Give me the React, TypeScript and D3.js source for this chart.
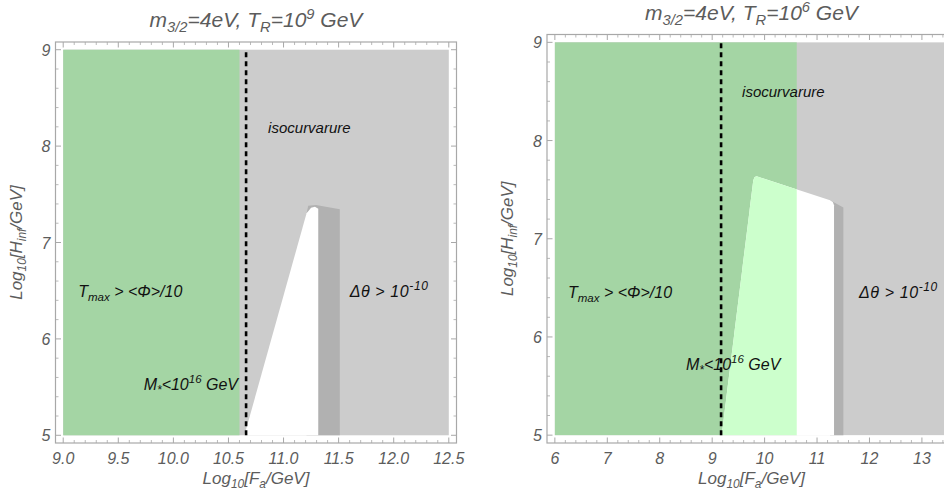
import { useEffect } from "react";
import * as d3 from "d3";

// axis ticks
const yTicks = [5, 6, 7, 8, 9];
const leftXTicks = [9.0, 9.5, 10.0, 10.5, 11.0, 11.5, 12.0, 12.5];
const rightXTicks = [6, 7, 8, 9, 10, 11, 12, 13];

const yRange = [5, 9];
const leftXRange = [9.0, 12.5];
const rightXRange = [6, 13.5];

// left panel: T_R = 10^9 GeV
const leftGreenEdge = 10.6;
const leftDashX = 10.66;
const leftStrip = [
  [11.209, 7.3], [11.224, 7.38], [11.294, 7.39], [11.511, 7.345], [11.511, 5], [11.209, 5],
];
const leftAllowed = [
  [10.645, 5], [11.209, 7.303], [11.25, 7.36], [11.285, 7.372], [11.315, 7.35], [11.315, 5],
];

// right panel: T_R = 10^6 GeV
const rightGreenEdge = 10.613;
const rightDashX = 9.17;
const rightStrip = [
  [11.248, 7.392], [11.502, 7.318], [11.502, 5], [11.248, 5],
];
const rightAllowed = [
  [9.181, 5], [9.784, 7.595], [9.81, 7.63], [9.849, 7.636], [11.248, 7.392],
  [11.3, 7.375], [11.324, 7.341], [11.324, 5],
];

// label anchor points (data coords)
const leftLabels = {
  iso: [10.86, 8.14], tmax: [9.136, 6.43], dtheta: [11.6, 6.43], mstar: [9.73, 5.47],
};
const rightLabels = {
  iso: [9.57, 8.44], tmax: [6.25, 6.4], dtheta: [11.8, 6.4], mstar: [8.5, 5.66],
};

const GREEN = "#a4d5a4";
const LIGHT_GREEN = "#ccffcc";
const GRAY = "#cccccc";
const DARK_GRAY = "#b1b1b1";
const FRAME = "#a8a8a8";
const TEXT_GRAY = "#5c5c5c";
const FONT = "'Liberation Sans', Arial, sans-serif";

type Pt = number[];

interface PanelProps {
  id: string;
  frame: { left: number; right: number; top: number; bottom: number };
  xRange: number[];
  xTicks: number[];
  xMinorStep: number;
  xFmt: (v: number) => string;
  greenEdge: number;
  dashX: number;
  strip: Pt[];
  allowed: Pt[];
  lightGreen: boolean;
  labels: { iso: Pt; tmax: Pt; dtheta: Pt; mstar: Pt };
  title: string;
}

function Panel(p: PanelProps) {
  const { frame } = p;
  const xPad = (p.xRange[1] - p.xRange[0]) * 0.02;
  const yPad = (yRange[1] - yRange[0]) * 0.02;
  const x = d3
    .scaleLinear()
    .domain([p.xRange[0] - xPad, p.xRange[1] + xPad])
    .range([frame.left, frame.right]);
  const y = d3
    .scaleLinear()
    .domain([yRange[0] - yPad, yRange[1] + yPad])
    .range([frame.bottom, frame.top]);

  const line = d3
    .line<Pt>()
    .x((d) => x(d[0]))
    .y((d) => y(d[1]));

  const xMinor = d3
    .range(p.xRange[0], p.xRange[1] + xPad + 1e-9, p.xMinorStep)
    .filter((v) => !p.xTicks.some((t) => Math.abs(t - v) < 1e-6));
  const yMinor = d3
    .range(yRange[0], yRange[1] + 1e-9, 0.2)
    .filter((v) => !yTicks.some((t) => Math.abs(t - v) < 1e-6));

  const major = 5.5;
  const minor = 3;
  const cx = (frame.left + frame.right) / 2;
  const cy = (frame.top + frame.bottom) / 2;
  const labStyle = { fontFamily: FONT, fontStyle: "italic", fontSize: 16, fill: "#111" };

  return (
    <g>
      <defs>
        <clipPath id={`${p.id}-lg`}>
          <rect x={x(p.xRange[0])} y={y(yRange[1])} width={x(p.greenEdge) - x(p.xRange[0])} height={y(yRange[0]) - y(yRange[1])} />
        </clipPath>
      </defs>
      {/* regions */}
      <rect x={x(p.xRange[0])} y={y(yRange[1])} width={x(p.xRange[1]) - x(p.xRange[0])} height={y(yRange[0]) - y(yRange[1])} fill={GRAY} />
      <rect x={x(p.xRange[0])} y={y(yRange[1])} width={x(p.greenEdge) - x(p.xRange[0])} height={y(yRange[0]) - y(yRange[1])} fill={GREEN} />
      <path d={line(p.strip) + "Z"} fill={DARK_GRAY} />
      <path d={line(p.allowed) + "Z"} fill="#ffffff" />
      {p.lightGreen && <path d={line(p.allowed) + "Z"} fill={LIGHT_GREEN} clipPath={`url(#${p.id}-lg)`} />}
      <line x1={x(p.dashX)} x2={x(p.dashX)} y1={y(yRange[0])} y2={y(yRange[1])} stroke="#000" strokeWidth={2.6} strokeDasharray="5,4" />

      {/* labels in plot */}
      <text x={x(p.labels.iso[0])} y={y(p.labels.iso[1])} style={{ ...labStyle, fontSize: 15 }}>isocurvarure</text>
      <text x={x(p.labels.tmax[0])} y={y(p.labels.tmax[1])} style={labStyle}>
        T<tspan fontSize="0.72em" dy="4">max</tspan><tspan dy="-4">{" > <Φ>/10"}</tspan>
      </text>
      <text x={x(p.labels.dtheta[0])} y={y(p.labels.dtheta[1])} style={{ ...labStyle, letterSpacing: 0.6 }}>
        {"Δθ > 10"}<tspan fontSize="0.75em" dy="-7">{"-10"}</tspan>
      </text>
      <text x={x(p.labels.mstar[0])} y={y(p.labels.mstar[1])} style={labStyle}>
        M<tspan fontSize="0.75em" dy="4">*</tspan><tspan dy="-4">{"<10"}</tspan>
        <tspan fontSize="0.72em" dy="-7">16</tspan><tspan dy="7">{" GeV"}</tspan>
      </text>

      {/* frame */}
      <rect x={frame.left} y={frame.top} width={frame.right - frame.left} height={frame.bottom - frame.top} fill="none" stroke={FRAME} strokeWidth={1.2} />
      {p.xTicks.map((t) => (
        <g key={`xt${t}`} stroke={FRAME} strokeWidth={1}>
          <line x1={x(t)} x2={x(t)} y1={frame.bottom} y2={frame.bottom - major} />
          <line x1={x(t)} x2={x(t)} y1={frame.top} y2={frame.top + major} />
        </g>
      ))}
      {xMinor.map((t) => (
        <g key={`xm${t}`} stroke={FRAME} strokeWidth={0.8}>
          <line x1={x(t)} x2={x(t)} y1={frame.bottom} y2={frame.bottom - minor} />
          <line x1={x(t)} x2={x(t)} y1={frame.top} y2={frame.top + minor} />
        </g>
      ))}
      {yTicks.map((t) => (
        <g key={`yt${t}`} stroke={FRAME} strokeWidth={1}>
          <line x1={frame.left} x2={frame.left + major} y1={y(t)} y2={y(t)} />
          <line x1={frame.right} x2={frame.right - major} y1={y(t)} y2={y(t)} />
        </g>
      ))}
      {yMinor.map((t) => (
        <g key={`ym${t}`} stroke={FRAME} strokeWidth={0.8}>
          <line x1={frame.left} x2={frame.left + minor} y1={y(t)} y2={y(t)} />
          <line x1={frame.right} x2={frame.right - minor} y1={y(t)} y2={y(t)} />
        </g>
      ))}

      {/* tick labels */}
      {p.xTicks.map((t) => (
        <text key={`xl${t}`} x={x(t)} y={frame.bottom + 21} textAnchor="middle" style={{ fontFamily: FONT, fontStyle: "italic", fontSize: 16, fill: TEXT_GRAY }}>
          {p.xFmt(t)}
        </text>
      ))}
      {yTicks.map((t) => (
        <text key={`yl${t}`} x={frame.left - 5} y={y(t) + 6} textAnchor="end" style={{ fontFamily: FONT, fontStyle: "italic", fontSize: 16, fill: TEXT_GRAY }}>
          {t}
        </text>
      ))}

      {/* axis labels */}
      <text x={cx} y={frame.bottom + 41} textAnchor="middle" style={{ fontFamily: FONT, fontStyle: "italic", fontSize: 17, fill: TEXT_GRAY }}>
        Log<tspan fontSize="0.7em" dy="3.5">10</tspan><tspan dy="-3.5">[F</tspan>
        <tspan fontSize="0.7em" dy="3.5">a</tspan><tspan dy="-3.5">/GeV]</tspan>
      </text>
      <text transform={`translate(${frame.left - 34},${cy}) rotate(-90)`} textAnchor="middle" style={{ fontFamily: FONT, fontStyle: "italic", fontSize: 17, fill: TEXT_GRAY }}>
        Log<tspan fontSize="0.7em" dy="4">10</tspan><tspan dy="-4">[H</tspan>
        <tspan fontSize="0.7em" dy="4">inf</tspan><tspan dy="-4">/GeV]</tspan>
      </text>

      {/* title */}
      <text x={cx} y={frame.top - 15} textAnchor="middle" style={{ fontFamily: FONT, fontStyle: "italic", fontSize: 21, fill: TEXT_GRAY }}>
        m<tspan fontSize="0.7em" dy="5">3/2</tspan><tspan dy="-5">=4eV,  T</tspan>
        <tspan fontSize="0.7em" dy="5">R</tspan><tspan dy="-5">=10</tspan>
        <tspan fontSize="0.7em" dy="-8">{p.title}</tspan><tspan dy="8">{" GeV"}</tspan>
      </text>
    </g>
  );
}

export default function App() {
  useEffect(() => {
    document.body.style.margin = "0";
    document.body.style.overflow = "hidden";
  }, []);

  return (
    <svg width={944} height={493} style={{ position: "absolute", left: 0, top: 0, background: "#fff" }}>
      <Panel
        id="left"
        frame={{ left: 55.5, right: 456.5, top: 42, bottom: 443 }}
        xRange={leftXRange}
        xTicks={leftXTicks}
        xMinorStep={0.1}
        xFmt={(v) => v.toFixed(1)}
        greenEdge={leftGreenEdge}
        dashX={leftDashX}
        strip={leftStrip}
        allowed={leftAllowed}
        lightGreen={false}
        labels={leftLabels}
        title="9"
      />
      <Panel
        id="right"
        frame={{ left: 547, right: 956, top: 34.5, bottom: 443 }}
        xRange={rightXRange}
        xTicks={rightXTicks}
        xMinorStep={0.2}
        xFmt={(v) => String(v)}
        greenEdge={rightGreenEdge}
        dashX={rightDashX}
        strip={rightStrip}
        allowed={rightAllowed}
        lightGreen={true}
        labels={rightLabels}
        title="6"
      />
    </svg>
  );
}
